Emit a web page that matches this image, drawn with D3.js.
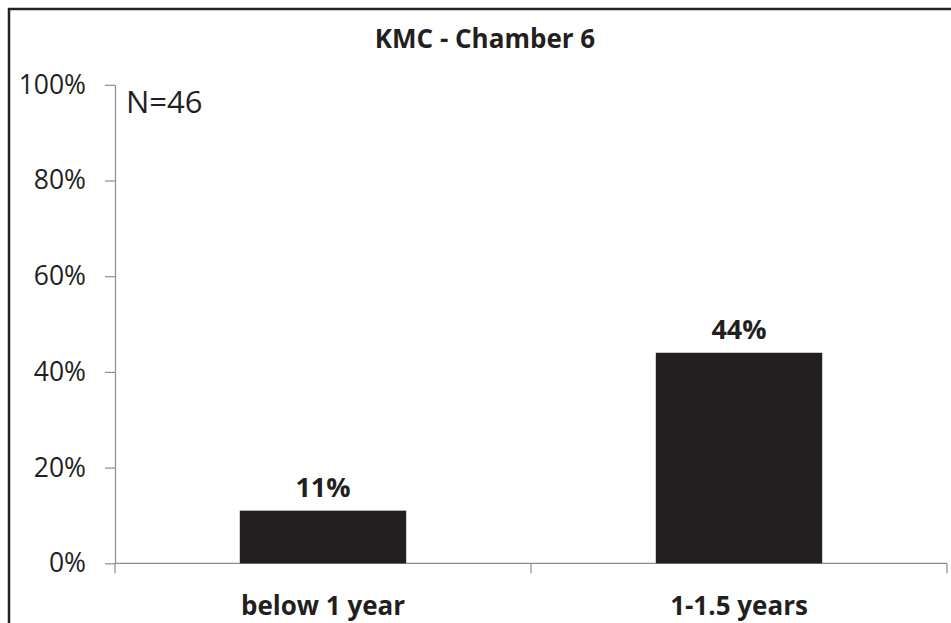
<!DOCTYPE html>
<html>
<head>
<meta charset="utf-8">
<script src="https://cdn.jsdelivr.net/npm/d3@7"></script>
<style>
  html, body { margin: 0; padding: 0; background: #fff; }
  svg { display: block; font-family: "Open Sans", sans-serif; }
</style>
</head>
<body>
<svg id="chart" width="951" height="623"></svg>
<script>
// Chart data
const categories = ["below 1 year", "1-1.5 years"];
const shares = [0.11, 0.44];
const yTicks = [0, 0.2, 0.4, 0.6, 0.8, 1.0];
const chartTitle = "KMC - Chamber 6";
const sampleNote = "N=46";

const ink = "#231f20";
const axisGray = "#8c8c8c";

const svg = d3.select("#chart");
const W = 951, H = 623;
const plot = { left: 115, right: 947, top: 84.8, bottom: 563.3 };

// Outer frame (open at right and bottom edges)
svg.append("rect")
  .attr("x", 9).attr("y", 9)
  .attr("width", W + 20).attr("height", H + 20)
  .attr("fill", "#fff")
  .attr("stroke", "#222")
  .attr("stroke-width", 2.5);

const x = d3.scaleBand().domain(categories).range([plot.left, plot.right]).padding(0);
const y = d3.scaleLinear().domain([0, 1]).range([plot.bottom, plot.top]);

// Y axis
const yAxis = svg.append("g")
  .attr("transform", `translate(${plot.left},0)`)
  .call(d3.axisLeft(y).tickValues(yTicks).tickFormat(d3.format(".0%"))
    .tickSize(10).tickPadding(19).tickSizeOuter(0));
yAxis.select(".domain").attr("stroke", axisGray).attr("stroke-width", 1.2);
yAxis.selectAll(".tick line").attr("stroke", axisGray).attr("stroke-width", 1.2);
yAxis.selectAll(".tick text")
  .attr("fill", ink)
  .style("font-family", "'Open Sans', sans-serif")
  .style("font-size", "26.5px");

// X axis baseline with ticks at category boundaries
const xAxis = svg.append("g");
xAxis.append("line")
  .attr("x1", plot.left).attr("x2", plot.right)
  .attr("y1", y(0)).attr("y2", y(0))
  .attr("stroke", axisGray).attr("stroke-width", 1.2);
const boundaries = categories.map(c => x(c)).concat([x(categories[categories.length - 1]) + x.bandwidth()]);
xAxis.selectAll("line.tk").data(boundaries).join("line")
  .attr("class", "tk")
  .attr("x1", d => d).attr("x2", d => d)
  .attr("y1", y(0)).attr("y2", y(0) + 10)
  .attr("stroke", axisGray).attr("stroke-width", 1.2);

// Category labels
xAxis.selectAll("text.cat").data(categories).join("text")
  .attr("class", "cat")
  .attr("x", d => x(d) + x.bandwidth() / 2)
  .attr("y", 615)
  .attr("text-anchor", "middle")
  .attr("fill", ink)
  .style("font-weight", "bold")
  .style("font-size", "26px")
  .text(d => d);

// Bars
const barW = x.bandwidth() * 0.4;
const bars = categories.map((c, i) => ({ cat: c, v: shares[i] }));
svg.selectAll("rect.bar").data(bars).join("rect")
  .attr("class", "bar")
  .attr("x", d => x(d.cat) + (x.bandwidth() - barW) / 2)
  .attr("y", d => y(d.v))
  .attr("width", barW)
  .attr("height", d => y(0) - y(d.v))
  .attr("fill", ink);

// Value labels
svg.selectAll("text.val").data(bars).join("text")
  .attr("class", "val")
  .attr("x", d => x(d.cat) + x.bandwidth() / 2)
  .attr("y", d => y(d.v) - 14)
  .attr("text-anchor", "middle")
  .attr("fill", ink)
  .style("font-weight", "bold")
  .style("font-size", "27px")
  .text(d => d3.format(".0%")(d.v));

// Title
svg.append("text")
  .attr("x", 485).attr("y", 48)
  .attr("text-anchor", "middle")
  .attr("fill", ink)
  .style("font-weight", "bold")
  .style("font-size", "26px")
  .text(chartTitle);

// Sample size note
svg.append("text")
  .attr("x", 126).attr("y", 113)
  .attr("fill", ink)
  .style("font-size", "31px")
  .text(sampleNote);
</script>
</body>
</html>
